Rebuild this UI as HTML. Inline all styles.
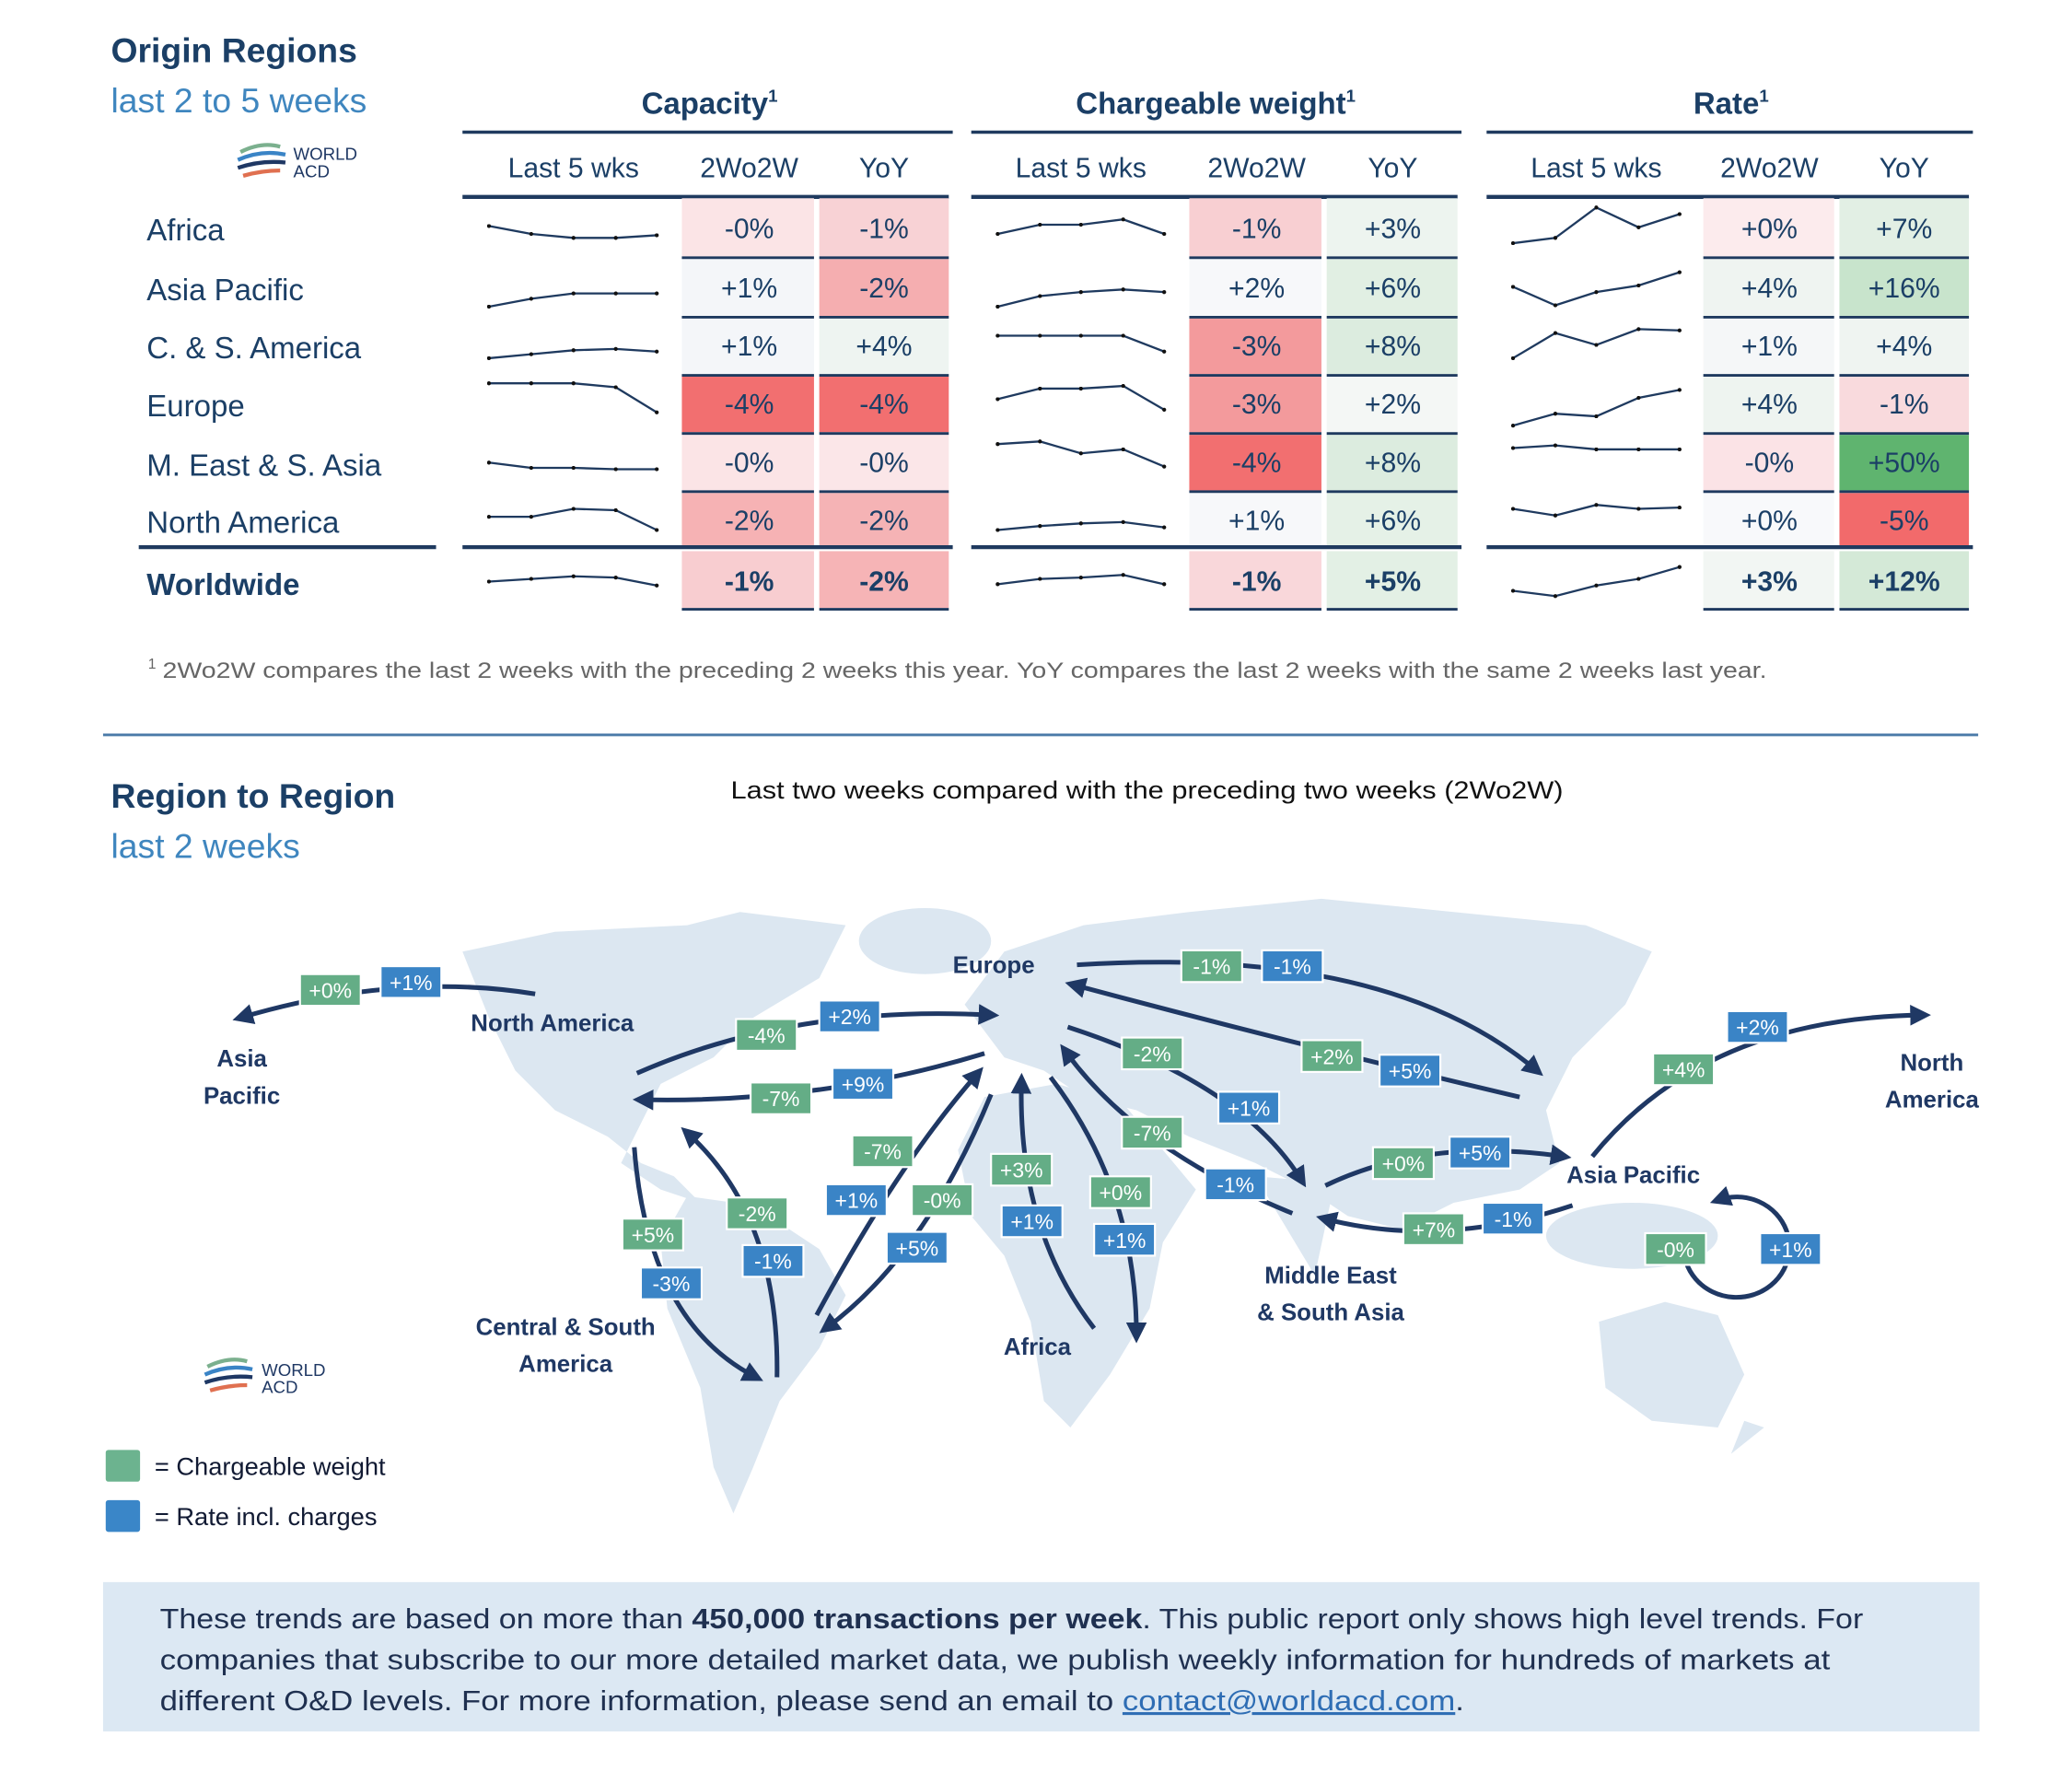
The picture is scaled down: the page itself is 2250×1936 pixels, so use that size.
<!DOCTYPE html>
<html><head><meta charset="utf-8"><style>
html,body{margin:0;padding:0;background:#fff;}
svg{display:block;font-family:"Liberation Sans",sans-serif;}
.h{fill:#1b3f66;font-weight:bold;}
.sub{fill:#3f86bf;}
.col{fill:#1b3f66;font-size:21px;text-anchor:middle;}
.rl{fill:#1b3f66;font-size:23px;}
.v{fill:#1b3f66;font-size:21px;text-anchor:middle;}
.sp polyline{fill:none;stroke:#1f3a5f;stroke-width:1.6;marker-start:url(#dot);marker-mid:url(#dot);marker-end:url(#dot);}
.ml{fill:#1f3864;font-size:18px;font-weight:bold;text-anchor:middle;}
.ar{fill:none;stroke:#1f3864;stroke-width:3.5;marker-end:url(#ah);}
.g rect{fill:#64ad86;stroke:#fff;stroke-width:1.5;}
.b rect{fill:#3a84c6;stroke:#fff;stroke-width:1.5;}
.g text,.b text{fill:#fff;font-size:16px;text-anchor:middle;}
</style></head><body>
<svg width="2250" height="1936" viewBox="0 0 1568 1349" preserveAspectRatio="none" xmlns="http://www.w3.org/2000/svg">
<defs>
<marker id="ah" viewBox="0 0 10 10" refX="6" refY="5" markerWidth="4.5" markerHeight="4.5" orient="auto"><path d="M0,0 L10,5 L0,10 Z" fill="#1f3864"/></marker>
<marker id="dot" viewBox="0 0 10 10" refX="5" refY="5" markerWidth="3" markerHeight="3" markerUnits="userSpaceOnUse"><circle cx="5" cy="5" r="5" fill="#111"/></marker>
</defs>
<text x="84" y="47" class="h" font-size="26">Origin Regions</text>
<text x="84" y="85" class="sub" font-size="26">last 2 to 5 weeks</text>
<g transform="translate(180,107)">
<path d="M2,8 Q18,0 32,4" stroke="#7bb08e" stroke-width="3" fill="none"/>
<path d="M0,14 Q18,6 36,10" stroke="#3a84c6" stroke-width="3" fill="none"/>
<path d="M0,20 Q18,14 36,16" stroke="#1f3864" stroke-width="3" fill="none"/>
<path d="M4,26 Q18,22 32,22" stroke="#e07050" stroke-width="3" fill="none"/>
<text x="42" y="14" font-size="13" fill="#1f3864">WORLD</text>
<text x="42" y="27" font-size="13" fill="#1f3864">ACD</text>
</g>
<text x="537" y="86" class="h" font-size="23" text-anchor="middle">Capacity<tspan font-size="13" dy="-9">1</tspan></text>
<text x="920" y="86" class="h" font-size="23" text-anchor="middle">Chargeable weight<tspan font-size="13" dy="-9">1</tspan></text>
<text x="1310" y="86" class="h" font-size="23" text-anchor="middle">Rate<tspan font-size="13" dy="-9">1</tspan></text>
<g stroke="#1f3a5f" stroke-width="2.5">
<line x1="350" y1="100" x2="721" y2="100"/><line x1="735" y1="100" x2="1106" y2="100"/><line x1="1125" y1="100" x2="1493" y2="100"/>
</g>
<g class="col">
<text x="434" y="134">Last 5 wks</text><text x="567" y="134">2Wo2W</text><text x="669" y="134">YoY</text>
<text x="818" y="134">Last 5 wks</text><text x="951" y="134">2Wo2W</text><text x="1054" y="134">YoY</text>
<text x="1208" y="134">Last 5 wks</text><text x="1339" y="134">2Wo2W</text><text x="1441" y="134">YoY</text>
</g>
<g stroke="#1f3a5f" stroke-width="3">
<line x1="350" y1="149" x2="718" y2="149"/><line x1="735" y1="149" x2="1103" y2="149"/><line x1="1125" y1="149" x2="1490" y2="149"/>
</g>
<g>
<rect x="516" y="150" width="100" height="44" fill="#fbe4e6"/><rect x="516" y="196" width="100" height="43" fill="#f4f6f9"/><rect x="516" y="241" width="100" height="42" fill="#f4f6f9"/><rect x="516" y="285" width="100" height="42" fill="#f26f70"/><rect x="516" y="329" width="100" height="42" fill="#fbe4e6"/><rect x="516" y="373" width="100" height="41" fill="#f6b2b4"/><rect x="516" y="417" width="100" height="43" fill="#f8cdd0"/>
<rect x="620" y="150" width="98" height="44" fill="#f8d2d5"/><rect x="620" y="196" width="98" height="43" fill="#f5aeb0"/><rect x="620" y="241" width="98" height="42" fill="#eef4f1"/><rect x="620" y="285" width="98" height="42" fill="#f26f70"/><rect x="620" y="329" width="98" height="42" fill="#fbe6e8"/><rect x="620" y="373" width="98" height="41" fill="#f5b3b5"/><rect x="620" y="417" width="98" height="43" fill="#f6b4b6"/>
<rect x="900" y="150" width="100" height="44" fill="#f8cfd2"/><rect x="900" y="196" width="100" height="43" fill="#f7f8fa"/><rect x="900" y="241" width="100" height="42" fill="#f39a9c"/><rect x="900" y="285" width="100" height="42" fill="#f39a9c"/><rect x="900" y="329" width="100" height="42" fill="#f26f70"/><rect x="900" y="373" width="100" height="41" fill="#f7f8fa"/><rect x="900" y="417" width="100" height="43" fill="#f9d7da"/>
<rect x="1004" y="150" width="99" height="44" fill="#edf4ef"/><rect x="1004" y="196" width="99" height="43" fill="#e1efe3"/><rect x="1004" y="241" width="99" height="42" fill="#dcecdf"/><rect x="1004" y="285" width="99" height="42" fill="#f4f7f5"/><rect x="1004" y="329" width="99" height="42" fill="#dcecdf"/><rect x="1004" y="373" width="99" height="41" fill="#e5f1e7"/><rect x="1004" y="417" width="99" height="43" fill="#e3f0e5"/>
<rect x="1289" y="150" width="99" height="44" fill="#fcebed"/><rect x="1289" y="196" width="99" height="43" fill="#eff4f1"/><rect x="1289" y="241" width="99" height="42" fill="#f5f7f8"/><rect x="1289" y="285" width="99" height="42" fill="#eef4f0"/><rect x="1289" y="329" width="99" height="42" fill="#fbe3e6"/><rect x="1289" y="373" width="99" height="41" fill="#f8f9fb"/><rect x="1289" y="417" width="99" height="43" fill="#f2f6f3"/>
<rect x="1392" y="150" width="98" height="44" fill="#e2efe4"/><rect x="1392" y="196" width="98" height="43" fill="#c8e4cc"/><rect x="1392" y="241" width="98" height="42" fill="#eff4f1"/><rect x="1392" y="285" width="98" height="42" fill="#f9dadd"/><rect x="1392" y="329" width="98" height="42" fill="#5fb46f"/><rect x="1392" y="373" width="98" height="41" fill="#f26a6b"/><rect x="1392" y="417" width="98" height="43" fill="#d4e9d7"/>
</g>
<g stroke="#1f3a5f" stroke-width="2">
<path d="M516,195H616M620,195H718M900,195H1000M1004,195H1103M1289,195H1388M1392,195H1490"/>
<path d="M516,240H616M620,240H718M900,240H1000M1004,240H1103M1289,240H1388M1392,240H1490"/>
<path d="M516,284H616M620,284H718M900,284H1000M1004,284H1103M1289,284H1388M1392,284H1490"/>
<path d="M516,328H616M620,328H718M900,328H1000M1004,328H1103M1289,328H1388M1392,328H1490"/>
<path d="M516,372H616M620,372H718M900,372H1000M1004,372H1103M1289,372H1388M1392,372H1490"/>
<path d="M516,461H616M620,461H718M900,461H1000M1004,461H1103M1289,461H1388M1392,461H1490"/>
</g>
<g stroke="#1f3a5f" stroke-width="3">
<line x1="105" y1="414" x2="330" y2="414"/><line x1="350" y1="414" x2="721" y2="414"/><line x1="735" y1="414" x2="1106" y2="414"/><line x1="1125" y1="414" x2="1493" y2="414"/>
</g>
<g class="rl">
<text x="111" y="182">Africa</text><text x="111" y="227">Asia Pacific</text><text x="111" y="271">C. &amp; S. America</text><text x="111" y="315">Europe</text><text x="111" y="360">M. East &amp; S. Asia</text><text x="111" y="403">North America</text>
<text x="111" y="450" font-weight="bold">Worldwide</text>
</g>
<g class="v">
<text x="567" y="180">-0%</text><text x="567" y="225">+1%</text><text x="567" y="269">+1%</text><text x="567" y="313">-4%</text><text x="567" y="357">-0%</text><text x="567" y="401">-2%</text>
<text x="669" y="180">-1%</text><text x="669" y="225">-2%</text><text x="669" y="269">+4%</text><text x="669" y="313">-4%</text><text x="669" y="357">-0%</text><text x="669" y="401">-2%</text>
<text x="951" y="180">-1%</text><text x="951" y="225">+2%</text><text x="951" y="269">-3%</text><text x="951" y="313">-3%</text><text x="951" y="357">-4%</text><text x="951" y="401">+1%</text>
<text x="1054" y="180">+3%</text><text x="1054" y="225">+6%</text><text x="1054" y="269">+8%</text><text x="1054" y="313">+2%</text><text x="1054" y="357">+8%</text><text x="1054" y="401">+6%</text>
<text x="1339" y="180">+0%</text><text x="1339" y="225">+4%</text><text x="1339" y="269">+1%</text><text x="1339" y="313">+4%</text><text x="1339" y="357">-0%</text><text x="1339" y="401">+0%</text>
<text x="1441" y="180">+7%</text><text x="1441" y="225">+16%</text><text x="1441" y="269">+4%</text><text x="1441" y="313">-1%</text><text x="1441" y="357">+50%</text><text x="1441" y="401">-5%</text>
<g font-weight="bold"><text x="567" y="447">-1%</text><text x="669" y="447">-2%</text><text x="951" y="447">-1%</text><text x="1054" y="447">+5%</text><text x="1339" y="447">+3%</text><text x="1441" y="447">+12%</text></g>
</g>
<g class="sp">
<polyline points="370,171 402,177 434,180 466,180 497,178"/>
<polyline points="370,232 402,226 434,222 466,222 497,222"/>
<polyline points="370,271 402,268 434,265 466,264 497,266"/>
<polyline points="370,290 402,290 434,290 466,293 497,312"/>
<polyline points="370,350 402,354 434,354 466,355 497,355"/>
<polyline points="370,391 402,391 434,385 466,386 497,401"/>
<polyline points="370,440 402,438 434,436 466,437 497,443"/>
<polyline points="755,177 787,170 818,170 850,166 881,177"/>
<polyline points="755,232 787,224 818,221 850,219 881,221"/>
<polyline points="755,254 787,254 818,254 850,254 881,266"/>
<polyline points="755,302 787,294 818,294 850,292 881,310"/>
<polyline points="755,336 787,334 818,343 850,340 881,353"/>
<polyline points="755,401 787,398 818,396 850,395 881,399"/>
<polyline points="755,442 787,438 818,437 850,435 881,442"/>
<polyline points="1145,184 1177,180 1208,157 1240,172 1271,162"/>
<polyline points="1145,217 1177,231 1208,221 1240,216 1271,206"/>
<polyline points="1145,271 1177,252 1208,261 1240,249 1271,250"/>
<polyline points="1145,322 1177,313 1208,315 1240,301 1271,295"/>
<polyline points="1145,339 1177,337 1208,340 1240,340 1271,340"/>
<polyline points="1145,385 1177,390 1208,382 1240,385 1271,384"/>
<polyline points="1145,447 1177,451 1208,443 1240,438 1271,429"/>
</g>
<text x="112" y="506" font-size="11" fill="#666">1</text>
<text x="123" y="513" font-size="17" fill="#666" textLength="1214" lengthAdjust="spacingAndGlyphs">2Wo2W compares the last 2 weeks with the preceding 2 weeks this year. YoY compares the last 2 weeks with the same 2 weeks last year.</text>
<line x1="78" y1="556" x2="1497" y2="556" stroke="#4a7aa8" stroke-width="2"/>
<text x="84" y="611" class="h" font-size="26">Region to Region</text>
<text x="84" y="649" class="sub" font-size="26">last 2 weeks</text>
<text x="553" y="604" font-size="19" fill="#111" textLength="630" lengthAdjust="spacingAndGlyphs">Last two weeks compared with the preceding two weeks (2Wo2W)</text>
<g fill="#dce7f1">
<path d="M350,720 L420,705 L520,700 L560,690 L640,700 L620,740 L570,770 L540,800 L500,820 L480,860 L470,880 L500,900 L530,910 L510,890 L485,880 L460,860 L420,840 L390,810 L370,770 Z"/>
<ellipse cx="700" cy="712" rx="50" ry="25"/>
<path d="M520,905 L570,912 L620,945 L640,980 L620,1020 L590,1060 L570,1110 L555,1145 L540,1110 L530,1050 L505,990 L500,940 Z"/>
<path d="M730,760 L760,720 L820,700 L900,690 L1000,680 L1100,690 L1200,700 L1250,720 L1230,760 L1190,800 L1170,840 L1180,880 L1150,900 L1100,910 L1060,930 L1020,920 L990,900 L950,880 L900,860 L860,840 L820,830 L790,810 L760,800 Z"/>
<path d="M745,830 L800,820 L850,835 L880,870 L905,900 L880,940 L870,990 L840,1040 L810,1080 L790,1060 L780,1000 L760,950 L735,920 L725,870 Z"/>
<path d="M950,890 L1010,895 L995,965 Z"/>
<ellipse cx="1235" cy="935" rx="65" ry="25"/>
<path d="M1210,1000 L1260,985 L1300,995 L1320,1040 L1300,1080 L1250,1075 L1215,1050 Z"/>
<path d="M1320,1075 L1335,1080 L1310,1100 Z"/>
</g>
<g>
<path class="ar" d="M405,752 Q300,735 182,770"/>
<path class="ar" d="M482,812 Q600,760 750,768"/>
<path class="ar" d="M745,797 Q620,835 485,832"/>
<path class="ar" d="M815,730 Q1050,715 1163,810"/>
<path class="ar" d="M1150,830 Q980,790 812,745"/>
<path class="ar" d="M1205,875 Q1290,770 1455,768"/>
<path class="ar" d="M808,777 Q940,820 985,893"/>
<path class="ar" d="M978,918 Q860,870 806,795"/>
<path class="ar" d="M1003,897 Q1080,860 1183,875"/>
<path class="ar" d="M1190,912 Q1090,945 1002,922"/>
<path class="ar" d="M1276,955 A40,38 0 1 0 1300,908"/>
<path class="ar" d="M618,995 Q680,880 740,812"/>
<path class="ar" d="M750,828 Q700,950 625,1005"/>
<path class="ar" d="M828,1005 Q770,930 773,818"/>
<path class="ar" d="M795,815 Q860,900 860,1010"/>
<path class="ar" d="M480,868 Q490,1000 572,1042"/>
<path class="ar" d="M588,1042 Q590,920 520,857"/>
</g>
<g class="ml">
<text x="183" y="807">Asia</text><text x="183" y="835">Pacific</text>
<text x="418" y="780">North America</text>
<text x="752" y="736">Europe</text>
<text x="1462" y="810">North</text><text x="1462" y="838">America</text>
<text x="1236" y="895">Asia Pacific</text>
<text x="1007" y="971">Middle East</text><text x="1007" y="999">&amp; South Asia</text>
<text x="785" y="1025">Africa</text>
<text x="428" y="1010">Central &amp; South</text><text x="428" y="1038">America</text>
</g>
<g class="g">
<rect x="227" y="737" width="46" height="24"/><text x="250" y="755">+0%</text>
<rect x="557" y="771" width="46" height="24"/><text x="580" y="789">-4%</text>
<rect x="568" y="819" width="46" height="24"/><text x="591" y="837">-7%</text>
<rect x="894" y="719" width="46" height="24"/><text x="917" y="737">-1%</text>
<rect x="985" y="787" width="46" height="24"/><text x="1008" y="805">+2%</text>
<rect x="1251" y="797" width="46" height="24"/><text x="1274" y="815">+4%</text>
<rect x="849" y="785" width="46" height="24"/><text x="872" y="803">-2%</text>
<rect x="849" y="845" width="46" height="24"/><text x="872" y="863">-7%</text>
<rect x="1039" y="868" width="46" height="24"/><text x="1062" y="886">+0%</text>
<rect x="1062" y="918" width="46" height="24"/><text x="1085" y="936">+7%</text>
<rect x="1245" y="933" width="46" height="24"/><text x="1268" y="951">-0%</text>
<rect x="645" y="859" width="46" height="24"/><text x="668" y="877">-7%</text>
<rect x="690" y="896" width="46" height="24"/><text x="713" y="914">-0%</text>
<rect x="750" y="873" width="46" height="24"/><text x="773" y="891">+3%</text>
<rect x="825" y="890" width="46" height="24"/><text x="848" y="908">+0%</text>
<rect x="471" y="922" width="46" height="24"/><text x="494" y="940">+5%</text>
<rect x="550" y="906" width="46" height="24"/><text x="573" y="924">-2%</text>
</g>
<g class="b">
<rect x="288" y="731" width="46" height="24"/><text x="311" y="749">+1%</text>
<rect x="620" y="757" width="46" height="24"/><text x="643" y="775">+2%</text>
<rect x="630" y="808" width="46" height="24"/><text x="653" y="826">+9%</text>
<rect x="955" y="719" width="46" height="24"/><text x="978" y="737">-1%</text>
<rect x="1044" y="798" width="46" height="24"/><text x="1067" y="816">+5%</text>
<rect x="1307" y="765" width="46" height="24"/><text x="1330" y="783">+2%</text>
<rect x="922" y="826" width="46" height="24"/><text x="945" y="844">+1%</text>
<rect x="912" y="884" width="46" height="24"/><text x="935" y="902">-1%</text>
<rect x="1097" y="860" width="46" height="24"/><text x="1120" y="878">+5%</text>
<rect x="1122" y="910" width="46" height="24"/><text x="1145" y="928">-1%</text>
<rect x="1332" y="933" width="46" height="24"/><text x="1355" y="951">+1%</text>
<rect x="625" y="896" width="46" height="24"/><text x="648" y="914">+1%</text>
<rect x="671" y="932" width="46" height="24"/><text x="694" y="950">+5%</text>
<rect x="758" y="912" width="46" height="24"/><text x="781" y="930">+1%</text>
<rect x="828" y="926" width="46" height="24"/><text x="851" y="944">+1%</text>
<rect x="485" y="959" width="46" height="24"/><text x="508" y="977">-3%</text>
<rect x="562" y="942" width="46" height="24"/><text x="585" y="960">-1%</text>
</g>
<g transform="translate(155,1026)">
<path d="M2,8 Q18,0 32,4" stroke="#7bb08e" stroke-width="3" fill="none"/>
<path d="M0,14 Q18,6 36,10" stroke="#3a84c6" stroke-width="3" fill="none"/>
<path d="M0,20 Q18,14 36,16" stroke="#1f3864" stroke-width="3" fill="none"/>
<path d="M4,26 Q18,22 32,22" stroke="#e07050" stroke-width="3" fill="none"/>
<text x="43" y="15" font-size="13" fill="#1f3864">WORLD</text>
<text x="43" y="28" font-size="13" fill="#1f3864">ACD</text>
</g>
<rect x="80" y="1097" width="26" height="24" rx="2" fill="#6cb38f"/>
<rect x="80" y="1135" width="26" height="24" rx="2" fill="#3a86c8"/>
<text x="117" y="1116" font-size="19" fill="#111a33">=  Chargeable weight</text>
<text x="117" y="1154" font-size="19" fill="#111a33">=  Rate incl. charges</text>
<rect x="78" y="1197" width="1420" height="113" fill="#dce8f3"/>
<g font-size="21.5" fill="#1f3050">
<text x="121" y="1232" textLength="1289" lengthAdjust="spacingAndGlyphs">These trends are based on more than <tspan font-weight="bold">450,000 transactions per week</tspan>. This public report only shows high level trends. For</text>
<text x="121" y="1263" textLength="1264" lengthAdjust="spacingAndGlyphs">companies that subscribe to our more detailed market data, we publish weekly information for hundreds of markets at</text>
<text x="121" y="1294" textLength="987" lengthAdjust="spacingAndGlyphs">different O&amp;D levels. For more information, please send an email to <tspan fill="#2e6db4" text-decoration="underline">contact@worldacd.com</tspan>.</text>
</g>
</svg>
</body></html>
